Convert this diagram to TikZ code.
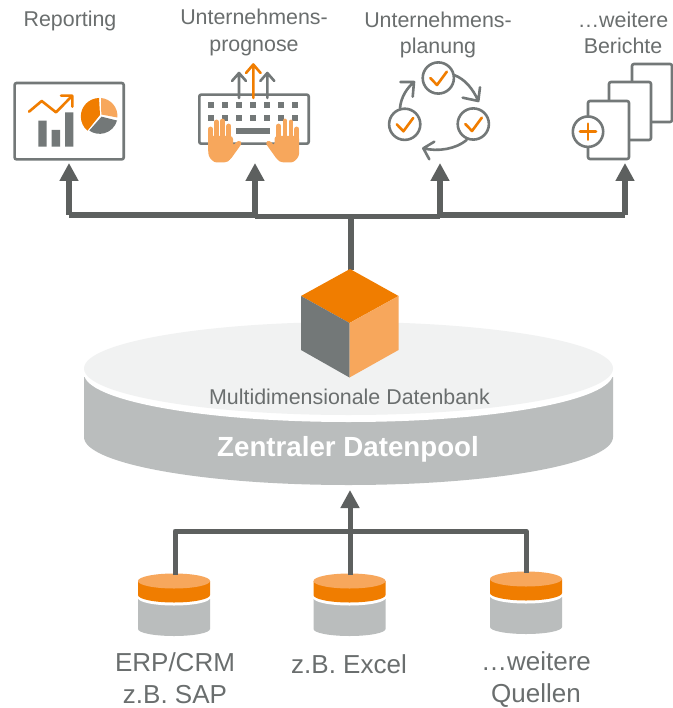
\documentclass[tikz,border=0pt]{standalone}
\usepackage{fontspec}
\setmainfont{Liberation Sans}
\usetikzlibrary{arrows.meta}
\definecolor{orangeA}{HTML}{F07D00}
\definecolor{orangeB}{HTML}{F7A75C}
\definecolor{iconG}{HTML}{737878}
\definecolor{trunkG}{HTML}{5D605F}
\definecolor{poolG}{HTML}{BABDBD}
\definecolor{poolL}{HTML}{F1F2F2}
\definecolor{textG}{HTML}{6A6E6E}
\tikzset{
  lbl/.style={text=textG,font=\fontsize{21.4}{26.5}\selectfont,inner sep=0pt,align=center},
  srclbl/.style={text=textG,font=\fontsize{26}{31.5}\selectfont,inner sep=0pt,align=center},
  trunk/.style={draw=trunkG,line width=5.4pt,line join=round},
  trunkarrow/.style={trunk,-{Triangle[length=18pt,width=18pt]}},
  thintrunk/.style={draw=trunkG,line width=5pt,line join=round},
  icon/.style={draw=iconG,line width=2.6pt,rounded corners=2pt,fill=white},
  iconline/.style={draw=iconG,line width=2.6pt,line cap=round,line join=round},
  orline/.style={draw=orangeA,line width=2.6pt,line cap=round,line join=round},
  anchorpt/.style={inner sep=0pt,minimum size=0pt},
}
\newcommand{\drawcyl}[2]{%
  \fill[poolG] (#1-36,#2+25) -- (#1-36,#2+55) arc[start angle=180,end angle=0,x radius=36,y radius=7] -- (#1+36,#2+25) -- cycle;
  \fill[white] (#1-36,#2+18) -- (#1-36,#2+24) arc[start angle=180,end angle=0,x radius=36,y radius=7.5] -- (#1+36,#2+18) -- cycle;
  \fill[orangeA] (#1-36,#2+7) -- (#1-36,#2+21) arc[start angle=180,end angle=0,x radius=36,y radius=7.5] -- (#1+36,#2+7) -- cycle;
  \fill[orangeB] (#1,#2+7) ellipse[x radius=36,y radius=7.5];
}
\newcommand{\drawhand}{%
  \fill[orangeB,rounded corners=3pt] (208.3,136) -- (233,136) -- (233,146) -- (238,140) -- (242.5,142.5) -- (230,160) -- (226,162.5) -- (214,162.5) -- (208.3,156) -- cycle;
  \draw[orangeB,line width=4.8pt,line cap=round] (210.7,150) -- (210.7,129) (216.6,145) -- (216.6,122) (222.6,145) -- (222.6,121) (228.8,145) -- (228.8,126);
}
\begin{document}
\begin{tikzpicture}[x=1pt,y=-1pt]
\useasboundingbox (0,0) rectangle (672,708);
\fill[white] (0,0) rectangle (672,708);

% labels
\node[lbl] (l1) at (70,20.5) {Reporting};
\node[lbl] (l2) at (254,32.5) {Unternehmens-\\prognose};
\node[lbl] (l3) at (438,35) {Unternehmens-\\planung};
\node[lbl] (l4) at (623,33) {…weitere\\Berichte};

% reporting icon
\draw[icon] (14.6,83) rectangle (123.7,159.4) node[pos=.5,anchorpt] (rep) {};
\fill[iconG] (38.3,120.7) rectangle (46.7,146.7) (51.7,130) rectangle (60,146.7) (65,112.3) rectangle (73.3,146.7);
\draw[orline] (29,111.7) -- (41.7,101) -- (56,112.3) -- (72.3,95.7) (61,95.7) -- (72.3,95.7) -- (72.3,106.7);
\fill[orangeA] (100,115) -- (99,98) arc[start angle=-91,end angle=-230,radius=18.5] -- cycle;
\fill[orangeB] (101.3,114.5) -- (101,98) arc[start angle=-85,end angle=5,radius=18] -- cycle;
\fill[iconG] (101.5,116.7) -- (117,120.5) arc[start angle=15,end angle=125,radius=18] -- cycle;

% keyboard icon
\draw[icon] (199.3,94.6) rectangle (308.7,143.7) node[pos=.5,anchorpt] (kbd) {};
\foreach \x in {211,225,239,253,267,281,295}{
  \fill[iconG] (\x-3,102) rectangle (\x+3,108);
  \fill[iconG] (\x-3,115) rectangle (\x+3,121);
}
\fill[iconG] (236,128) rectangle (270,134);
\draw[iconline] (239,98) -- (239,73) (232,81) -- (239,73) -- (246,81);
\draw[iconline] (267.3,98) -- (267.3,73) (260.3,81) -- (267.3,73) -- (274.3,81);
\draw[orline] (253.3,98) -- (253.3,64.5) (246,73) -- (253.3,64.5) -- (260.6,73);
\drawhand
\begin{scope}[xshift=507.5pt,xscale=-1]\drawhand\end{scope}

% planning icon
\draw[iconline] (438.3,78) circle[radius=15.6];
\draw[iconline] (404.7,124.3) circle[radius=15.6];
\draw[iconline] (473.3,124) circle[radius=15.6];
\foreach \cx/\cy in {438.3/78,404.7/124.3,473.3/124}{
  \draw[orline] (\cx-8,\cy) -- (\cx-1.3,\cy+7) -- (\cx+8.5,\cy-6.3);
}
\draw[iconline] (400,108) .. controls (401,97) and (407,88) .. (414,82) (400.5,82) -- (414,82) -- (412.7,96.7);
\draw[iconline] (454,75) .. controls (465,79) and (473,89) .. (478.3,101) (462.7,97.7) -- (478.3,101) -- (480,87.3);
\draw[iconline] (466.7,140) .. controls (456,149) and (438,152) .. (423.3,148.3) (434.3,141.7) -- (423.3,148.3) -- (429.3,159.3);

% reports icon
\draw[icon] (632,64) rectangle (672,122);
\draw[icon] (609,82) rectangle (651,140);
\draw[icon] (588,101) rectangle (629,159) node[pos=.5,anchorpt] (doc) {};
\draw[iconline,fill=white] (588,131.7) circle[radius=15.2];
\draw[orline] (580,131.7) -- (596,131.7) (588,123.7) -- (588,139.7);

% output tree
\coordinate (c1) at (69,163);
\coordinate (c2) at (255,163);
\coordinate (c3) at (440,163);
\coordinate (c4) at (625,163);
\coordinate (b1) at (69,215);
\coordinate (b2) at (255,216.3);
\coordinate (b2up) at (255,215);
\coordinate (b3) at (440,216.3);
\coordinate (b3up) at (440,215);
\coordinate (b4) at (625,215);
\coordinate (bm) at (351,216);
\draw[trunk] (b1) -- (b2up) (b2) -- (b3) (b3up) -- (b4);
\draw[trunkarrow] (b1) -- (c1);
\draw[trunkarrow] (b2) -- (c2);
\draw[trunkarrow] (b3) -- (c3);
\draw[trunkarrow] (b4) -- (c4);

% pool
\fill[poolG] (84,377) -- (84,437) arc[start angle=180,end angle=0,x radius=264.5,y radius=48] -- (613,377) -- cycle;
\fill[white] (348.5,373.5) ellipse[x radius=264.5,y radius=48.5];
\fill[poolL] (348.5,368.5) ellipse[x radius=264.5,y radius=46.5];
\node[inner sep=0pt] (pool) at (348,449) {\textcolor{white}{\fontsize{27.7}{32}\selectfont\bfseries Zentraler Datenpool}};
\node[inner sep=0pt,text=textG,font=\fontsize{21.4}{24}\selectfont] (mdb) at (349.5,397) {Multidimensionale Datenbank};

% cube
\coordinate (cubeconn) at (351,270);
\draw[draw=trunkG,line width=6pt] (bm) -- (cubeconn);
\coordinate (cubetop) at (350,269);
\fill[orangeA] (cubetop) -- (398.5,296) -- (349.5,323) -- (301,296) -- cycle;
\fill[iconG] (301,296) -- (349.5,323) -- (349.5,377.5) -- (301,350) -- cycle;
\fill[orangeB] (398.5,296) -- (349.5,323) -- (349.5,377.5) -- (398.5,350) -- cycle;

% sources
\drawcyl{174}{574}
\drawcyl{349.5}{574}
\drawcyl{526}{572}
\coordinate (s1) at (175,575);
\coordinate (s2) at (350,575);
\coordinate (s3) at (526,573);
\coordinate (sb1) at (175,531);
\coordinate (sb3) at (526,531);
\coordinate (tip) at (350,490);
\draw[thintrunk] (s1) -- (sb1) -- (sb3) -- (s3);
\draw[thintrunk,-{Triangle[length=18pt,width=18pt]}] (s2) -- (tip);

\node[srclbl] (q1) at (175,678) {ERP/CRM\\z.B. SAP};
\node[srclbl] (q2) at (349,664) {z.B. Excel};
\node[srclbl] (q3) at (536,679.5) {…weitere\\Quellen};
\end{tikzpicture}
\end{document}
